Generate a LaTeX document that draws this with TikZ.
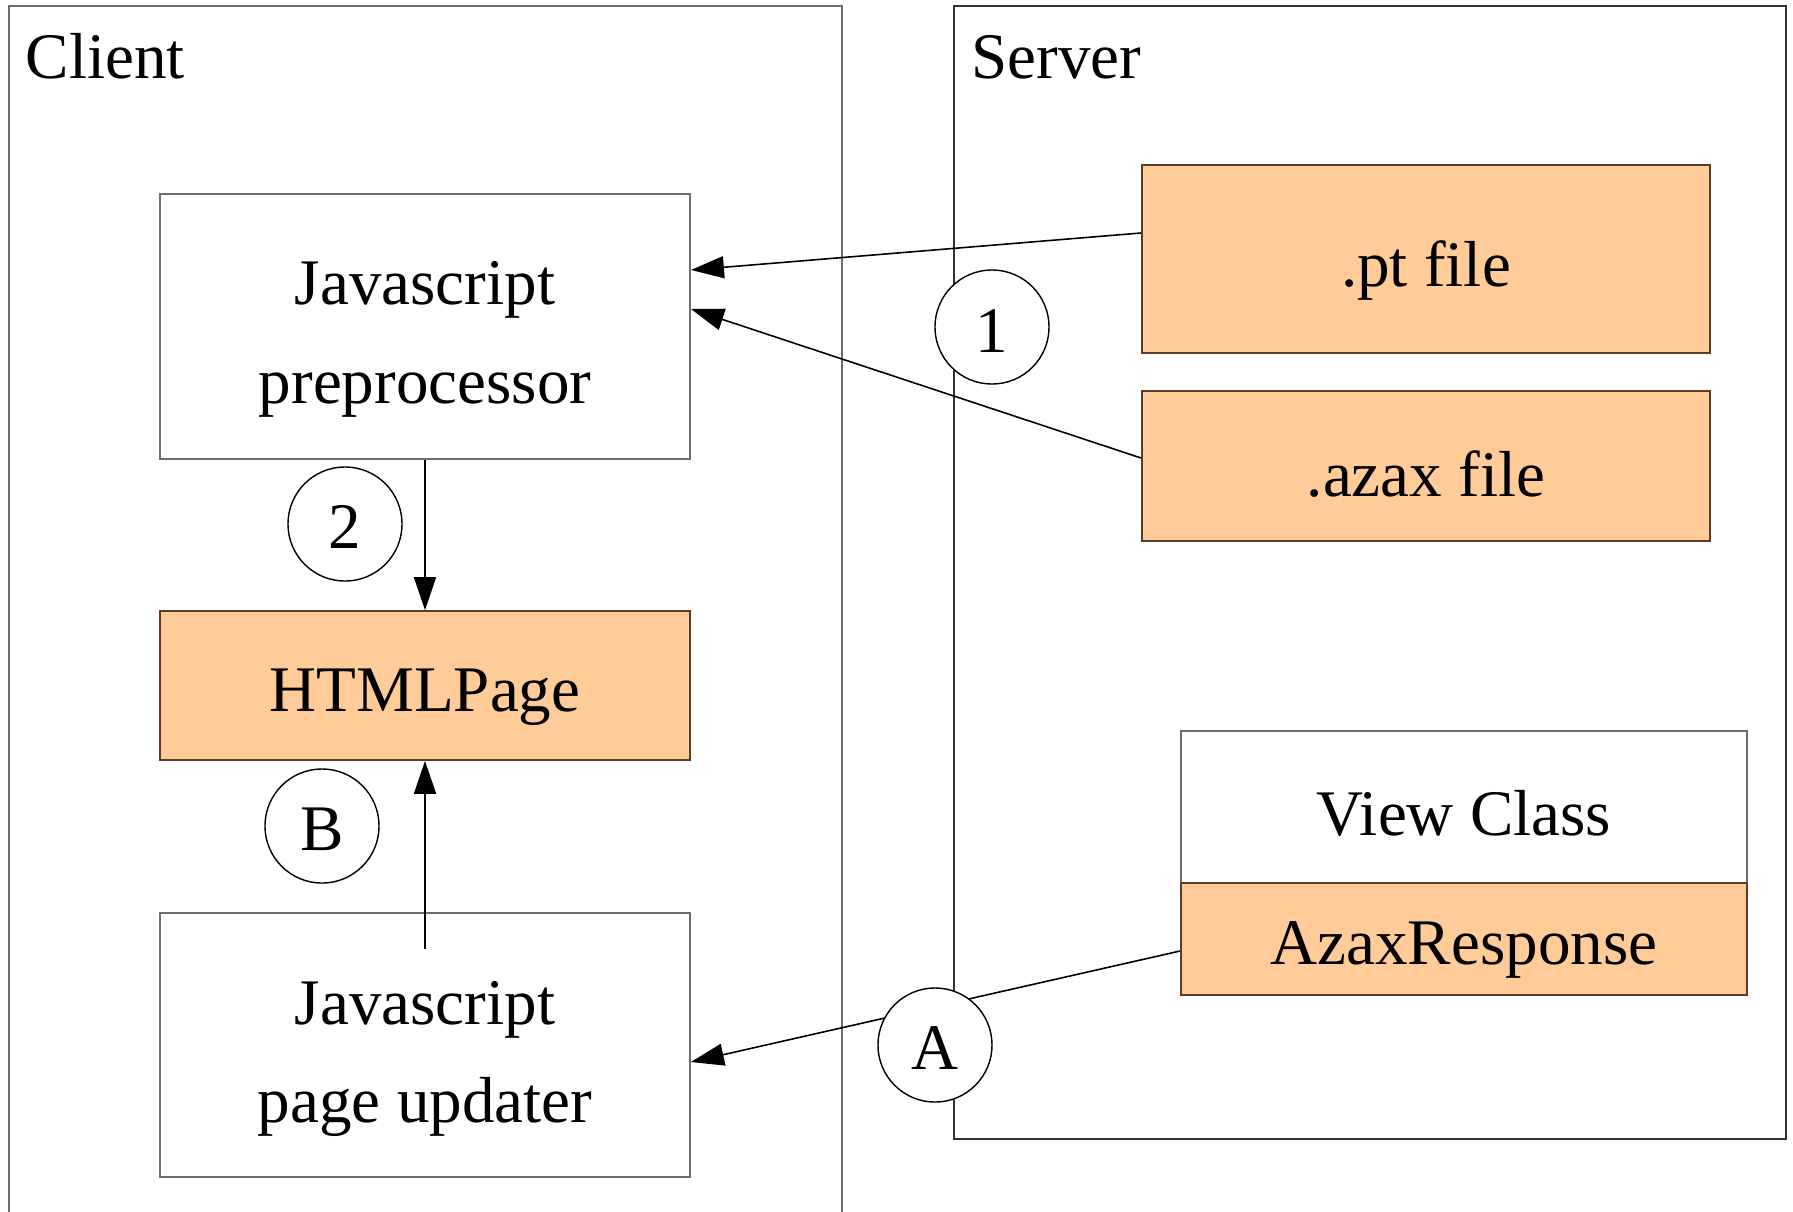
\documentclass[tikz,border=0pt]{standalone}
\usepackage{fontspec}
\setmainfont{Liberation Serif}
\usetikzlibrary{arrows.meta}
\definecolor{boxorange}{RGB}{255,204,153}
\definecolor{boxbrown}{RGB}{90,60,40}
\definecolor{framegray}{RGB}{110,110,110}
\tikzset{
  lbl/.style={font=\fontsize{18.5}{28}\selectfont, align=center, inner sep=0pt},
  whitebox/.style={draw=framegray, fill=white, line width=0.45pt, inner sep=0pt},
  orangebox/.style={draw=boxbrown, fill=boxorange, line width=0.45pt, inner sep=0pt},
  stepcircle/.style={draw=black, fill=white, circle, line width=0.4pt, minimum size=1.14cm, inner sep=0pt},
  conn/.style={line width=0.45pt, -{Triangle[length=0.33cm,width=0.22cm]}},
}
\begin{document}
\begin{tikzpicture}[x=0.01cm,y=-0.01cm]
\useasboundingbox (0,0) rectangle (1793,1211);
% frames
\draw[framegray, line width=0.45pt] (9,1215) -- (9,6) -- (842,6) -- (842,1215);
\draw[black!80, line width=0.45pt] (954,6) rectangle (1786,1139);
\node[lbl, anchor=base west] (clientlbl) at (25,78) {Client};
\node[lbl, anchor=base west] (serverlbl) at (971,78) {Server};
% client boxes
\node[whitebox, minimum width=5.30cm, minimum height=2.65cm] (pre) at (425,326.5) {};
\node[lbl] (pretxt) at ([yshift=-0.13cm]pre.center) {Javascript\\preprocessor};
\node[orangebox, minimum width=5.30cm, minimum height=1.49cm] (html) at (425,685.5) {};
\node[lbl] (htmltxt) at ([yshift=-0.115cm]html.center) {HTMLPage};
\node[whitebox, minimum width=5.30cm, minimum height=2.64cm] (upd) at (425,1045) {};
\node[lbl] (updtxt) at ([yshift=-0.14cm]upd.center) {Javascript\\page updater};
% server boxes
\node[orangebox, minimum width=5.68cm, minimum height=1.88cm] (pt) at (1426,259) {};
\node[lbl] (pttxt) at ([yshift=-0.115cm]pt.center) {.pt file};
\node[orangebox, minimum width=5.68cm, minimum height=1.50cm] (azax) at (1426,466) {};
\node[lbl] (azaxtxt) at ([yshift=-0.08cm]azax.center) {.azax file};
\node[whitebox, minimum width=5.66cm, minimum height=1.52cm] (view) at (1464,807) {};
\node[lbl] (viewtxt) at ([yshift=-0.06cm]view.center) {View Class};
\node[orangebox, minimum width=5.66cm, minimum height=1.12cm] (resp) at (1464,939) {};
\node[lbl] (resptxt) at ([yshift=-0.11cm]resp.center) {AzaxResponse};
% connectors
\draw[conn] ([yshift=0.26cm]pt.west) -- ([yshift=0.565cm]pre.east);
\draw[conn] ([yshift=0.08cm]azax.west) -- ([yshift=0.175cm]pre.east);
\draw[conn] (pre.south) -- (html.north);
\coordinate (updstart) at ([yshift=-0.37cm]upd.north);
\draw[conn] (updstart) -- (html.south);
\draw[conn] ([yshift=-0.12cm]resp.west) -- ([yshift=-0.17cm]upd.east);
% step circles
\node[stepcircle] (c1) at (992,327) {};
\node[lbl] (c1txt) at ([yshift=-0.04cm]c1.center) {1};
\node[stepcircle] (c2) at (345,524) {};
\node[lbl] (c2txt) at ([yshift=-0.03cm]c2.center) {2};
\node[stepcircle] (cB) at (322,826) {};
\node[lbl] (cBtxt) at ([yshift=-0.03cm]cB.center) {B};
\node[stepcircle] (cA) at (935,1045) {};
\node[lbl] (cAtxt) at ([yshift=-0.03cm]cA.center) {A};
\end{tikzpicture}
\end{document}
